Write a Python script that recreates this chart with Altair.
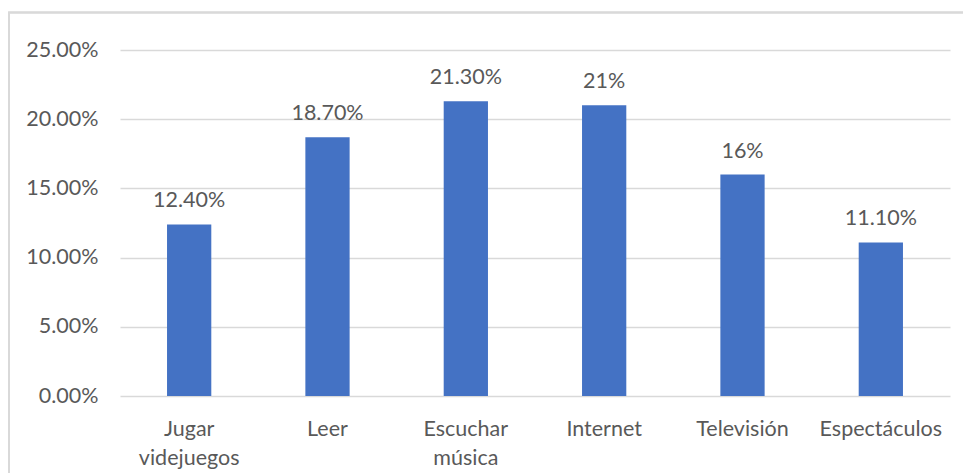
import altair as alt
import pandas as pd

categories = ["Jugar\nvidejuegos", "Leer", "Escuchar\nmúsica", "Internet", "Televisión", "Espectáculos"]
values = [0.124, 0.187, 0.213, 0.21, 0.16, 0.111]
value_labels = ["12.40%", "18.70%", "21.30%", "21%", "16%", "11.10%"]

df = pd.DataFrame({"cat": categories, "val": values, "lab": value_labels})

FONT = "Lato"
TXT = "#595959"
FS = 21.5

x_enc = alt.X("cat:N", sort=categories, title=None,
              scale=alt.Scale(paddingInner=0.68, paddingOuter=0.34),
              axis=alt.Axis(labelExpr="split(datum.label, '\\n')", labelAngle=0,
                            labelFont=FONT, labelFontSize=FS, labelColor=TXT,
                            labelLineHeight=29, labelPadding=22,
                            ticks=False, domain=False, grid=False))
y_enc = alt.Y("val:Q", title=None,
              scale=alt.Scale(domain=[0, 0.25], nice=False),
              axis=alt.Axis(format=".2%", values=[0, 0.05, 0.1, 0.15, 0.2, 0.25],
                            labelFont=FONT, labelFontSize=FS, labelColor=TXT,
                            labelPadding=22, ticks=False, domain=False,
                            gridColor="#d9d9d9", gridWidth=1.5))

bars = alt.Chart(df).mark_bar(color="#4472C4").encode(x=x_enc, y=y_enc)

texts = alt.Chart(df).mark_text(font=FONT, fontSize=FS, color=TXT,
                                baseline="alphabetic", dy=-17).encode(
    x=alt.X("cat:N", sort=categories), y="val:Q", text="lab:N")

border = alt.Chart(df).mark_rect(fill=None, stroke="#d9d9d9", strokeWidth=1.5).encode(
    x=alt.value(-111), y=alt.value(-37.5), x2=alt.value(900), y2=alt.value(500))

chart = alt.layer(border, bars, texts).properties(
    width=830, height=346,
    autosize=alt.AutoSizeParams(type="none"),
    padding={"left": 120, "top": 50, "right": 13, "bottom": 77},
).configure_view(stroke=None)

chart.save("out.html", embed_options={"renderer": "svg", "actions": False})
